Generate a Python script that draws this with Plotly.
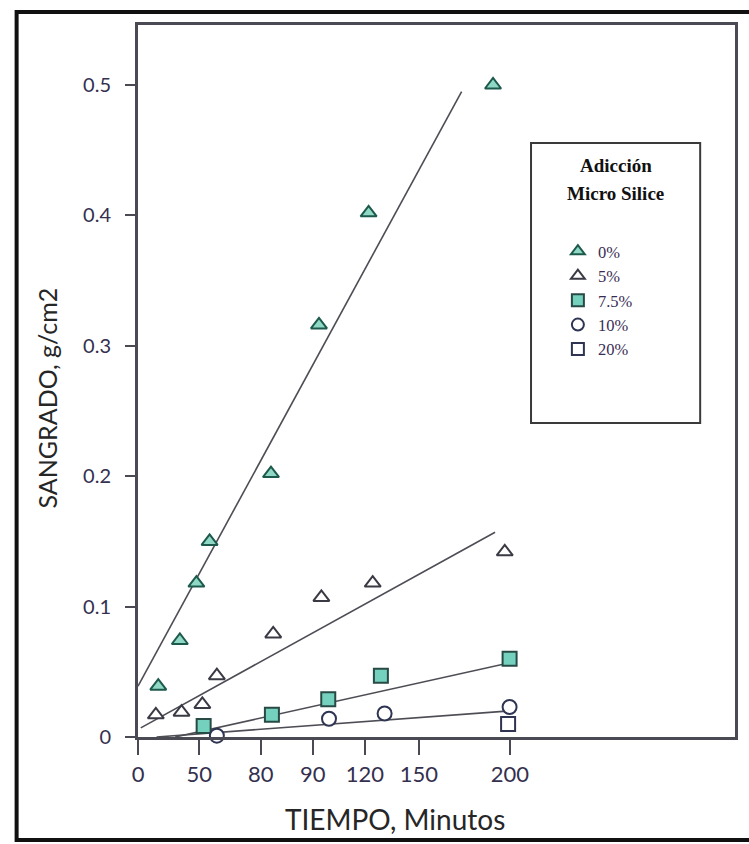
import plotly.graph_objects as go

# ---- data ----
series_names = ["0%", "5%", "7.5%", "10%", "20%"]

x_0 = [10.9, 22.5, 31.4, 38.5, 71.5, 97.3, 124.0, 190.9]
y_0 = [0.039, 0.074, 0.118, 0.150, 0.202, 0.316, 0.402, 0.500]

x_5 = [9.6, 23.4, 34.6, 42.4, 72.7, 98.6, 126.2, 197.2]
y_5 = [0.017, 0.019, 0.025, 0.047, 0.079, 0.107, 0.118, 0.142]

x_75 = [35.3, 72.0, 102.3, 130.6, 199.8]
y_75 = [0.0085, 0.017, 0.029, 0.047, 0.060]

x_10 = [42.4, 102.7, 132.6, 199.8]
y_10 = [0.001, 0.014, 0.018, 0.023]

x_20 = [199.0]
y_20 = [0.010]

# fitted trend lines (end points)
fit0_x = [0, 174]
fit0_y = [0.039, 0.495]
fit5_x = [1.5, 192]
fit5_y = [0.007, 0.157]
fit75_x = [20, 200]
fit75_y = [0.0, 0.057]
fit10_x = [10, 200]
fit10_y = [0.0, 0.020]

# axis ticks
x_tickvals = [0, 33, 66, 94, 122, 151, 200]
x_ticktext = ["0", "50", "80", "90", "120", "150", "200"]
y_tickvals = [0, 0.1, 0.2, 0.3, 0.4, 0.5]
y_ticktext = ["0", "0.1", "0.2", "0.3", "0.4", "0.5"]

legend_title_lines = ["Adicción", "Micro Silice"]

# ---- figure ----
W, H = 749, 844
L, R, T, B = 138, 738, 25, 737
fig = go.Figure()

line_style = dict(color="#4d4d55", width=1.6)
for fx, fy in [(fit0_x, fit0_y), (fit5_x, fit5_y), (fit75_x, fit75_y), (fit10_x, fit10_y)]:
    fig.add_trace(go.Scatter(x=fx, y=fy, mode="lines", line=line_style,
                             showlegend=False, hoverinfo="skip", cliponaxis=False))

marker_specs = [
    (x_0, y_0, "triangle-up", "#8fd8c6", "#1d5a4c"),
    (x_5, y_5, "triangle-up", "#ffffff", "#3a3a44"),
    (x_75, y_75, "square", "#74d1bd", "#284a45"),
    (x_10, y_10, "circle", "#ffffff", "#2e3452"),
    (x_20, y_20, "square", "#ffffff", "#2e3452"),
]
for name, (xs, ys, sym, fill, edge) in zip(series_names, marker_specs):
    fig.add_trace(go.Scatter(
        x=xs, y=ys, mode="markers", name=name, cliponaxis=False,
        marker=dict(symbol=sym, size=14, color=fill, line=dict(color=edge, width=2)),
    ))

def px_x(p):
    return (p - L) / (R - L)

def px_y(p):
    return (B - p) / (B - T)

serif = "Liberation Serif, Times New Roman, serif"

fig.update_layout(
    width=W, height=H,
    margin=dict(l=L, r=W - R, t=T, b=H - B),
    paper_bgcolor="white", plot_bgcolor="white",
    showlegend=True,
    legend=dict(
        x=px_x(560), y=px_y(234), xanchor="left", yanchor="top",
        bgcolor="rgba(0,0,0,0)", borderwidth=0,
        font=dict(family=serif, size=16.5, color="#3a2d55"),
        itemsizing="constant", itemwidth=30,
        tracegroupgap=0,
    ),
    xaxis=dict(
        range=[0, 321], showgrid=False, zeroline=False,
        tickmode="array", tickvals=x_tickvals, ticktext=x_ticktext,
        ticks="outside", ticklen=15, tickwidth=2, tickcolor="#4a4a55",
        showline=True, linecolor="#4a4a55", linewidth=2.5, mirror=True,
        tickfont=dict(family="Lato, sans-serif", size=22, color="#34304f"),
        ticklabelstandoff=1,
    ),
    yaxis=dict(
        range=[0, 0.546], showgrid=False, zeroline=False,
        tickmode="array", tickvals=y_tickvals, ticktext=y_ticktext,
        ticks="outside", ticklen=10, tickwidth=1.5, tickcolor="#4a4a55",
        showline=True, linecolor="#4a4a55", linewidth=3, mirror=True,
        tickfont=dict(family="Lato, sans-serif", size=20, color="#34304f"),
        ticklabelstandoff=10,
    ),
    shapes=[
        # outer frame
        dict(type="rect", xref="paper", yref="paper",
             x0=px_x(16), x1=px_x(765), y0=px_y(840), y1=px_y(12),
             line=dict(color="#111111", width=4), fillcolor="rgba(0,0,0,0)", layer="below"),
        # legend box
        dict(type="rect", xref="paper", yref="paper",
             x0=px_x(533), x1=px_x(703), y0=px_y(423), y1=px_y(143),
             line=dict(color="#3a3a3a", width=2), fillcolor="rgba(0,0,0,0)"),
    ],
    annotations=[
        dict(text="TIEMPO, Minutos", xref="paper", yref="paper",
             x=px_x(396), y=px_y(819), xanchor="center", yanchor="middle",
             showarrow=False, font=dict(family="Lato, sans-serif", size=28, color="#262626")),
        dict(text="SANGRADO, g/cm2", xref="paper", yref="paper",
             x=px_x(47), y=px_y(398), xanchor="center", yanchor="middle", textangle=-90,
             showarrow=False, font=dict(family="Lato, sans-serif", size=25, color="#262626")),
        dict(text="<b>" + legend_title_lines[0] + "</b>", xref="paper", yref="paper",
             x=px_x(618), y=px_y(166), xanchor="center", yanchor="middle",
             showarrow=False, font=dict(family=serif, size=19, color="#111111")),
        dict(text="<b>" + legend_title_lines[1] + "</b>", xref="paper", yref="paper",
             x=px_x(618), y=px_y(193), xanchor="center", yanchor="middle",
             showarrow=False, font=dict(family=serif, size=19, color="#111111")),
    ],
)

fig.write_html("out.html", config={"displayModeBar": False},
               post_script="document.body.style.margin='0px';")
